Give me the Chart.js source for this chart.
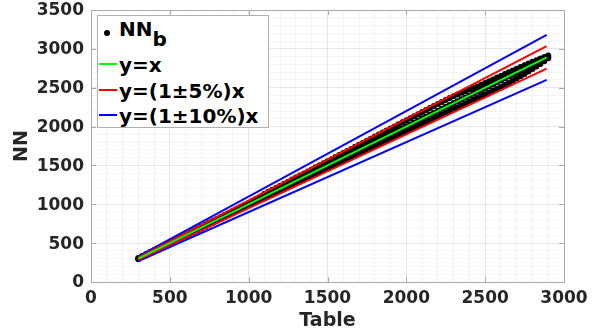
<!DOCTYPE html>
<html>
<head>
<meta charset="utf-8">
<script src="https://cdn.jsdelivr.net/npm/chart.js@4.4.0/dist/chart.umd.min.js"></script>
<style>
  body { margin: 0; background: #fff; }
  #wrap { position: relative; width: 598px; height: 334px; }
  #legend {
    position: absolute; left: 97px; top: 15px; width: 170px; height: 111px;
    border: 1px solid #b0b0b0; background: #fff;
    font: bold 20px "DejaVu Sans", sans-serif; color: #000;
  }
  #legend .txt { position: absolute; left: 21px; line-height: 20px; white-space: nowrap; }
  #legend .swatch { position: absolute; left: 1px; width: 18px; height: 2px; }
  #legend .dot { position: absolute; left: 6px; top: 14px; width: 6px; height: 6px; border-radius: 50%; background: #000; }
</style>
</head>
<body>
<div id="wrap">
  <canvas id="chart" width="598" height="334"></canvas>
  <div id="legend">
    <div class="dot"></div>
    <div class="txt" style="top:3px">NN<span style="position:relative; top:10px">b</span></div>
    <div class="swatch" style="top:47px; background:#00ff00"></div>
    <div class="txt" style="top:39px">y=x</div>
    <div class="swatch" style="top:73px; background:#ff0000"></div>
    <div class="txt" style="top:65px">y=(1±5%)x</div>
    <div class="swatch" style="top:98px; background:#0000ff"></div>
    <div class="txt" style="top:90px">y=(1±10%)x</div>
  </div>
</div>
<script>
// NN_b scatter band: table value and the top / middle / bottom of the band
const nnTable = [300, 325, 350, 375, 400, 425, 450, 475, 500, 525, 550, 575, 600, 625, 650, 675,
  700, 725, 750, 775, 800, 825, 850, 875, 900, 925, 950, 975, 1000, 1025, 1050, 1075,
  1100, 1125, 1150, 1175, 1200, 1225, 1250, 1275, 1300, 1325, 1350, 1375, 1400, 1425, 1450, 1475,
  1500, 1525, 1550, 1575, 1600, 1625, 1650, 1675, 1700, 1725, 1750, 1775, 1800, 1825, 1850, 1875,
  1900, 1925, 1950, 1975, 2000, 2025, 2050, 2075, 2100, 2125, 2150, 2175, 2200, 2225, 2250, 2275,
  2300, 2325, 2350, 2375, 2400, 2425, 2450, 2475, 2500, 2525, 2550, 2575, 2600, 2625, 2650, 2675,
  2700, 2725, 2750, 2775, 2800, 2825, 2850, 2875, 2900];
const nnHigh = [308, 334, 359, 385, 410, 435, 461, 486, 511, 537, 562, 587, 613, 638, 663, 689,
  714, 739, 765, 790, 815, 841, 866, 891, 917, 942, 967, 993, 1018, 1045, 1071, 1097,
  1134, 1160, 1186, 1212, 1239, 1265, 1291, 1318, 1344, 1370, 1397, 1423, 1449, 1476, 1502, 1528,
  1555, 1581, 1607, 1634, 1660, 1686, 1713, 1739, 1765, 1792, 1818, 1844, 1871, 1897, 1923, 1950,
  1976, 2002, 2029, 2055, 2081, 2107, 2133, 2159, 2186, 2212, 2238, 2265, 2291, 2317, 2342, 2367,
  2390, 2413, 2434, 2455, 2476, 2497, 2515, 2538, 2561, 2584, 2607, 2630, 2652, 2675, 2698, 2721,
  2744, 2767, 2790, 2812, 2834, 2855, 2876, 2895, 2914];
const nnMid = [300, 327, 351, 374, 399, 427, 452, 475, 501, 527, 549, 576, 603, 626, 652, 675,
  701, 728, 754, 777, 802, 828, 853, 879, 905, 928, 954, 979, 1004, 1030, 1056, 1079,
  1103, 1130, 1155, 1179, 1206, 1230, 1254, 1281, 1305, 1331, 1357, 1380, 1404, 1431, 1456, 1480,
  1505, 1529, 1553, 1580, 1606, 1630, 1655, 1679, 1703, 1729, 1755, 1780, 1806, 1830, 1853, 1879,
  1905, 1931, 1957, 1980, 2004, 2028, 2052, 2079, 2106, 2130, 2155, 2178, 2203, 2229, 2254, 2278,
  2302, 2326, 2350, 2374, 2398, 2423, 2447, 2471, 2495, 2520, 2545, 2569, 2593, 2618, 2644, 2668,
  2692, 2717, 2742, 2768, 2793, 2820, 2846, 2872, 2897];
const nnLow = [292, 317, 342, 366, 391, 416, 441, 465, 490, 515, 540, 565, 590, 615, 640, 664,
  689, 714, 739, 764, 789, 813, 838, 863, 888, 913, 938, 963, 987, 1011, 1035, 1059,
  1075, 1099, 1123, 1147, 1171, 1195, 1219, 1243, 1267, 1291, 1315, 1339, 1363, 1387, 1411, 1435,
  1459, 1483, 1507, 1531, 1555, 1579, 1602, 1626, 1650, 1674, 1698, 1722, 1746, 1770, 1794, 1818,
  1842, 1866, 1890, 1914, 1938, 1962, 1986, 2010, 2034, 2058, 2082, 2106, 2130, 2154, 2178, 2202,
  2226, 2250, 2274, 2298, 2320, 2345, 2369, 2393, 2416, 2440, 2463, 2487, 2510, 2535, 2562, 2590,
  2620, 2649, 2678, 2709, 2740, 2773, 2806, 2841, 2880];

// reference lines (end points)
const lineX = [300, 2890];
const lineEq = [300, 2890];
const lineUp5 = [315, 3034.5];
const lineDown5 = [285, 2745.5];
const lineUp10 = [330, 3179];
const lineDown10 = [270, 2601];

const xTicksMax = 3000;
const yTicksMax = 3500;

const pts = (xs, ys) => xs.map((x, i) => ({ x: x, y: ys[i] }));

const nnPoints = pts(nnTable, nnHigh).concat(pts(nnTable, nnMid), pts(nnTable, nnLow));

const axisColor = '#a9a9a9';
const textColor = '#262626';
const tickFont = { family: 'DejaVu Sans', size: 17, weight: 'bold' };
const titleFont = { family: 'DejaVu Sans', size: 19, weight: 'bold', lineHeight: 1.2 };
const gridColor = ctx => (ctx.tick && ctx.tick.value % 500 === 0) ? 'rgba(0,0,0,0.09)' : 'rgba(0,0,0,0.045)';
const majorLabel = v => (v % 500 === 0 ? v : '');

function lineSet(label, ys, color, order) {
  return {
    label: label,
    data: pts(lineX, ys),
    showLine: true,
    borderColor: color,
    borderWidth: 2,
    pointRadius: 0,
    fill: false,
    order: order
  };
}

// frame on top/right plus inward tick marks on all four sides
const framePlugin = {
  id: 'frame',
  afterDraw(chart) {
    const { ctx, chartArea: a, scales } = chart;
    ctx.save();
    ctx.strokeStyle = axisColor;
    ctx.lineWidth = 1;
    ctx.beginPath();
    ctx.moveTo(a.left, a.top + 0.5);
    ctx.lineTo(a.right + 0.5, a.top + 0.5);
    ctx.lineTo(a.right + 0.5, a.bottom);
    for (let v = 0; v <= xTicksMax; v += 500) {
      const px = Math.round(scales.x.getPixelForValue(v)) + 0.5;
      ctx.moveTo(px, a.bottom); ctx.lineTo(px, a.bottom - 5);
      ctx.moveTo(px, a.top); ctx.lineTo(px, a.top + 5);
    }
    for (let v = 0; v <= yTicksMax; v += 500) {
      const py = Math.round(scales.y.getPixelForValue(v)) + 0.5;
      ctx.moveTo(a.left, py); ctx.lineTo(a.left + 5, py);
      ctx.moveTo(a.right, py); ctx.lineTo(a.right - 5, py);
    }
    ctx.stroke();
    ctx.restore();
  }
};

new Chart(document.getElementById('chart'), {
  type: 'scatter',
  data: {
    datasets: [
      lineSet('y=x', lineEq, '#00ff00', 1),
      lineSet('y=(1+5%)x', lineUp5, '#ff0000', 2),
      lineSet('y=(1-5%)x', lineDown5, '#ff0000', 2),
      lineSet('y=(1+10%)x', lineUp10, '#0000ff', 3),
      lineSet('y=(1-10%)x', lineDown10, '#0000ff', 3),
      {
        label: 'NN_b',
        data: nnPoints,
        backgroundColor: '#000',
        borderWidth: 0,
        pointRadius: 3,
        order: 4
      }
    ]
  },
  options: {
    responsive: false,
    animation: false,
    events: [],
    layout: { padding: { top: 10, right: 34, left: 0, bottom: 0 } },
    plugins: { legend: { display: false }, tooltip: { enabled: false } },
    scales: {
      x: {
        type: 'linear', min: 0, max: xTicksMax,
        afterFit: s => { s.height = 52; },
        ticks: { stepSize: 100, autoSkip: false, maxRotation: 0, padding: 6,
                 callback: majorLabel, font: tickFont, color: textColor },
        grid: { color: gridColor, drawTicks: false },
        border: { color: axisColor },
        title: { display: true, text: 'Table', font: titleFont, color: textColor,
                 padding: { top: 0, bottom: 2 } }
      },
      y: {
        type: 'linear', min: 0, max: yTicksMax,
        afterFit: s => { s.width = 91; s.paddingTop = 0; s.paddingBottom = 0; },
        ticks: { stepSize: 100, autoSkip: false, padding: 7, labelOffset: 1,
                 callback: majorLabel, font: tickFont, color: textColor },
        grid: { color: gridColor, drawTicks: false },
        border: { color: axisColor },
        title: { display: true, text: 'NN', font: titleFont, color: textColor,
                 padding: { top: 11, bottom: 0 } }
      }
    }
  },
  plugins: [framePlugin]
});
</script>
</body>
</html>
